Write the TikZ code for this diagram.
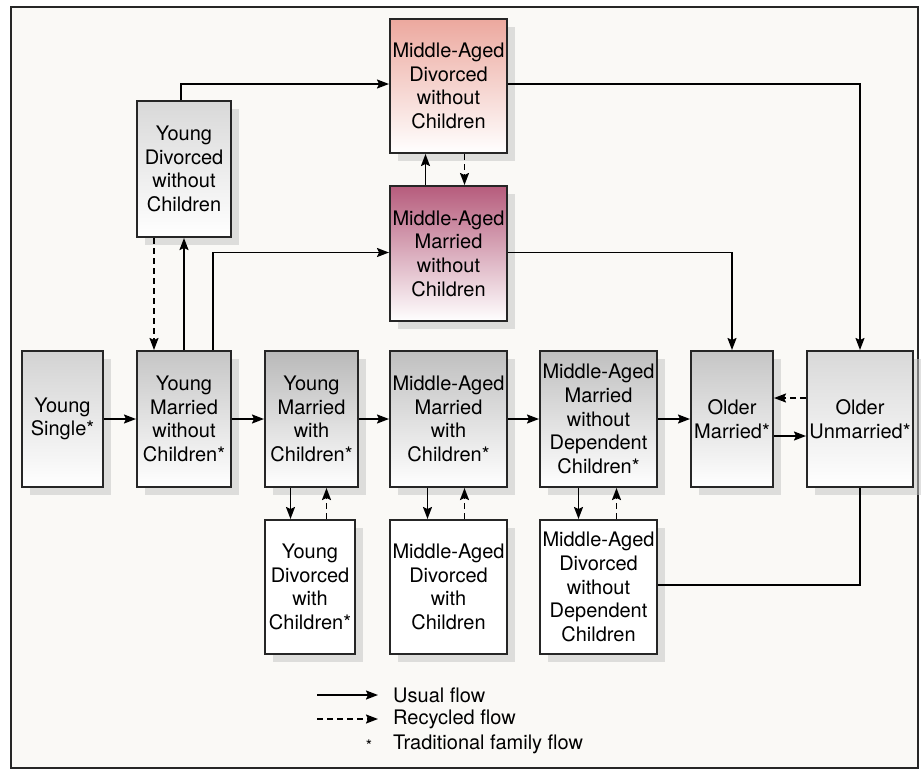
\documentclass[tikz,border=0pt]{standalone}
\usepackage{fontspec}
\setmainfont{TeX Gyre Heros}
\usepackage{xcolor}
\usepackage{tikz}
\usetikzlibrary{arrows.meta, positioning, calc, shadows}
\definecolor{blush}{RGB}{236,168,158}
\definecolor{mauve}{RGB}{182,92,124}
\definecolor{paper}{RGB}{250,249,246}
\tikzset{
    stage/.style={rectangle, draw=black!85, line width=2pt, inner sep=0pt, align=center,
        minimum height=136pt, font=\fontsize{20}{23.7}\selectfont,
        drop shadow={shadow xshift=8pt, shadow yshift=-8pt, fill=gray!45, opacity=0.55}},
    graystage/.style={stage, top color=gray!#1, middle color=gray!#1!white!35!white, bottom color=white},
    usual/.style={line width=1.7pt, -{Stealth[length=12pt, width=9pt, inset=2pt]}},
    recycled/.style={usual, dash pattern=on 6pt off 4pt}
}

\begin{document}
\begin{tikzpicture}[x=1pt, y=-1pt]
    \useasboundingbox (0,0) rectangle (922,772);
    \fill[paper] (11,7) rectangle (918,768);
    \draw[line width=2.6pt, black!85] (11,7) rectangle (918,768);

    % main row
    \node (ys) [graystage=35, minimum width=81pt] at (62.5,419) {Young\\Single*};
    \node (ymnc) [graystage=45, minimum width=94pt, right=32pt of ys] {Young\\Married\\without\\Children*};
    \node (ymc) [graystage=55, minimum width=93pt, right=32pt of ymnc] {Young\\Married\\with\\Children*};
    \node (mamc) [graystage=50, minimum width=117pt, right=30pt of ymc] {Middle-Aged\\Married\\with\\Children*};
    \node (mamnd) [graystage=50, minimum width=117pt, right=31pt of mamc] {Middle-Aged\\Married\\without\\Dependent\\Children*};
    \node (om) [graystage=45, minimum width=82pt, right=32pt of mamnd] {Older\\Married*};
    \node (ou) [graystage=30, minimum width=106pt, right=32pt of om] {Older\\Unmarried*};

    % divorced below
    \node (ydc) [stage, fill=white, minimum width=90pt, minimum height=134pt, below right=31pt and 0pt of ymc.south west] {Young\\Divorced\\with\\Children*};
    \node (madc) [stage, fill=white, minimum width=117pt, minimum height=134pt, below=31pt of mamc] {Middle-Aged\\Divorced\\with\\Children};
    \node (madnd) [stage, fill=white, minimum width=117pt, minimum height=134pt, below=31pt of mamnd] {Middle-Aged\\Divorced\\without\\Dependent\\Children};

    % childless branch above
    \node (mamnc) [stage, top color=mauve, middle color=mauve!45!white, bottom color=white, minimum width=117pt, minimum height=135pt, above=28pt of mamc] {Middle-Aged\\Married\\without\\Children};
    \node (madnc) [stage, top color=blush, middle color=white, bottom color=white, minimum width=117pt, minimum height=134pt, above=31pt of mamnc] {Middle-Aged\\Divorced\\without\\Children};
    \node (ydnc) [stage, top color=gray!30, middle color=white, bottom color=white, minimum width=94pt, above=112pt of ymnc] {Young\\Divorced\\without\\Children};

    % row flow
    \draw [usual] (ys) -- (ymnc);
    \draw [usual] (ymnc) -- (ymc);
    \draw [usual] (ymc) -- (mamc);
    \draw [usual] (mamc) -- (mamnd);
    \draw [usual] (mamnd) -- (om);
    \draw [usual] ([yshift=-17pt]om.east) -- ([yshift=-17pt]om.east -| ou.west);
    \draw [recycled] ([yshift=21pt]ou.west) -- ([yshift=21pt]ou.west -| om.east);

    % divorce and return
    \draw [usual] ([xshift=-21pt]ymc.south) -- ([xshift=-21pt]ymc.south |- ydc.north);
    \draw [recycled] ([xshift=15pt]ymc.south |- ydc.north) -- ([xshift=15pt]ymc.south);
    \draw [usual] ([xshift=-21pt]mamc.south) -- ([xshift=-21pt]mamc.south |- madc.north);
    \draw [recycled] ([xshift=16pt]mamc.south |- madc.north) -- ([xshift=16pt]mamc.south);
    \draw [usual] ([xshift=-20pt]mamnd.south) -- ([xshift=-20pt]mamnd.south |- madnd.north);
    \draw [recycled] ([xshift=18pt]mamnd.south |- madnd.north) -- ([xshift=18pt]mamnd.south);
    \draw [usual] ([xshift=-23pt]mamnc.north) -- ([xshift=-23pt]mamnc.north |- madnc.south);
    \draw [recycled] ([xshift=16pt]madnc.south) -- ([xshift=16pt]madnc.south |- mamnc.north);
    \draw [recycled] ([xshift=-30pt]ydnc.south) -- ([xshift=-30pt]ydnc.south |- ymnc.north);
    \draw [usual] (ymnc.north) -- (ydnc.south);

    % long routes
    \draw [usual] ([xshift=29pt]ymnc.north) |- ([yshift=1pt]mamnc.west);
    \draw [usual] ([xshift=-3pt]ydnc.north) |- ([yshift=2pt]madnc.west);
    \draw [usual] ([yshift=2pt]madnc.east) -| (ou.north);
    \draw [usual] ([yshift=1pt]mamnc.east) -| (om.north);
    \draw [line width=1.7pt] (ou.south) |- ([yshift=2pt]madnd.east);

    % legend
    \node (lgusual) [anchor=west, inner sep=0pt, font=\fontsize{20}{24}\selectfont] at (393,695) {Usual flow};
    \node (lgrec) [anchor=west, inner sep=0pt, font=\fontsize{20}{24}\selectfont] at (393,719) {Recycled flow};
    \node (lgtrad) [anchor=west, inner sep=0pt, font=\fontsize{20}{24}\selectfont] at (393,744) {Traditional family flow};
    \node (lgstar) [inner sep=0pt, font=\fontsize{16}{20}\selectfont] at (369,746) {*};
    \coordinate (lu) at (317,695);
    \coordinate (lr) at (317,719);
    \draw [usual, shorten >=15pt] (lu) -- (lgusual.west);
    \draw [recycled, shorten >=15pt] (lr) -- (lr -| lgrec.west);
\end{tikzpicture}
\end{document}
